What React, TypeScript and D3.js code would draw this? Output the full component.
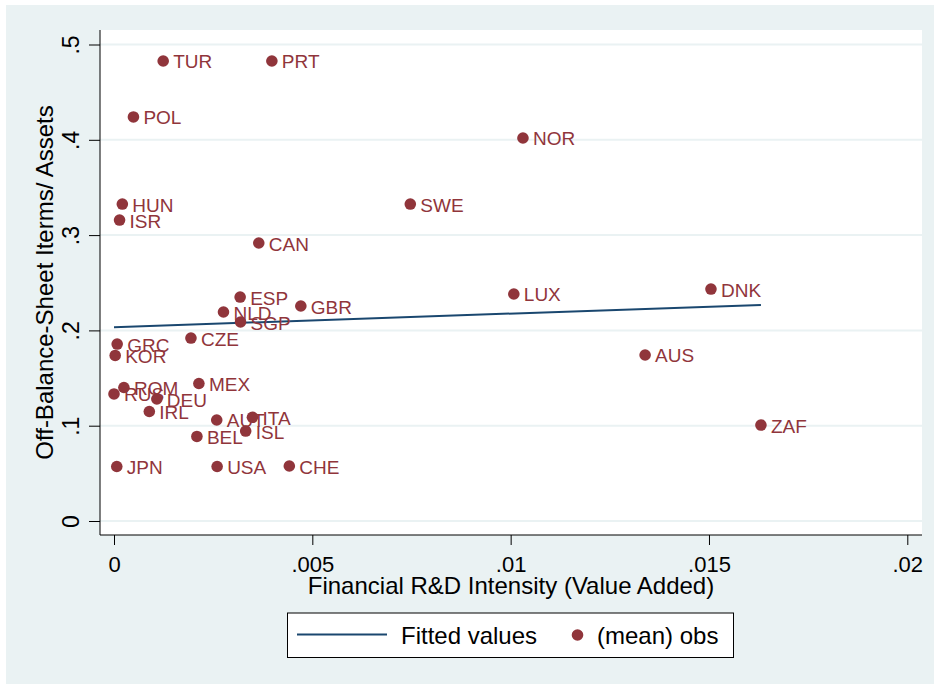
import React, { useEffect, useRef } from 'react';
import * as d3 from 'd3';

// Country codes and values
const countries = ['TUR', 'PRT', 'POL', 'NOR', 'HUN', 'SWE', 'ISR', 'CAN', 'ESP', 'LUX', 'DNK',
  'GBR', 'NLD', 'SGP', 'CZE', 'GRC', 'KOR', 'AUS', 'MEX', 'ROM', 'RUS', 'DEU', 'IRL', 'AUT',
  'ITA', 'ISL', 'ZAF', 'BEL', 'JPN', 'USA', 'CHE'];
const rdIntensity = [0.00124, 0.00398, 0.00049, 0.01031, 0.00021, 0.00747, 0.00014, 0.00365,
  0.00318, 0.01008, 0.01505, 0.00471, 0.00276, 0.00319, 0.00194, 0.00008, 0.00003, 0.01339,
  0.00214, 0.00025, 0.0, 0.00108, 0.00089, 0.00259, 0.00349, 0.00332, 0.01631, 0.00209,
  0.00007, 0.0026, 0.00442];
const offBalance = [0.4827, 0.4827, 0.424, 0.4019, 0.3326, 0.3326, 0.3158, 0.2917, 0.235,
  0.2382, 0.2434, 0.2256, 0.2193, 0.2088, 0.192, 0.1857, 0.1737, 0.1742, 0.1443, 0.1401,
  0.1333, 0.128, 0.1149, 0.106, 0.1088, 0.0944, 0.1007, 0.0887, 0.0572, 0.0572, 0.0577];

// Fitted values line (endpoints)
const fitX = [0, 0.01631];
const fitY = [0.2033, 0.2267];

const xTicks = [0, 0.005, 0.01, 0.015, 0.02];
const xTickLabels = ['0', '.005', '.01', '.015', '.02'];
const yTicks = [0, 0.1, 0.2, 0.3, 0.4, 0.5];
const yTickLabels = ['0', '.1', '.2', '.3', '.4', '.5'];

const W = 934;
const H = 684;
const FONT = '"Liberation Sans", Arial, sans-serif';
const BG = '#eaf2f3';
const NAVY = '#1a476f';
const MAROON = '#90353b';

const App: React.FC = () => {
  const ref = useRef<SVGSVGElement | null>(null);

  useEffect(() => {
    document.body.style.margin = '0';
    if (!ref.current) return;
    const svg = d3.select(ref.current);
    svg.selectAll('*').remove();

    // plot region bounds
    const left = 100, right = 922, top = 30, bottom = 535;

    const x = d3.scaleLinear().domain([0, 0.02]).range([114, 907.3]);
    const y = d3.scaleLinear().domain([0, 0.5]).range([521, 44.5]);

    svg.append('rect').attr('width', W).attr('height', H).attr('fill', '#fff');
    svg.append('rect').attr('x', 6).attr('y', 5).attr('width', W - 6).attr('height', H - 5).attr('fill', BG);
    svg.append('rect').attr('x', left).attr('y', top).attr('width', right - left).attr('height', bottom - top).attr('fill', '#fff');

    // gridlines
    svg.append('g').selectAll('line').data(yTicks).enter().append('line')
      .attr('x1', left).attr('x2', right)
      .attr('y1', d => y(d)).attr('y2', d => y(d))
      .attr('stroke', BG).attr('stroke-width', 2);

    // y axis
    const yAxis = svg.append('g').attr('transform', `translate(${left},0)`)
      .call(d3.axisLeft(y).tickValues(yTicks).tickSize(11).tickSizeOuter(0)
        .tickFormat((d, i) => yTickLabels[i]));
    yAxis.select('.domain').attr('d', `M0,${top}V${bottom}`).attr('stroke', '#000');
    yAxis.selectAll('.tick line').attr('stroke', '#000');
    yAxis.selectAll('.tick text')
      .attr('x', null).attr('dy', null)
      .attr('transform', 'translate(-21,0) rotate(-90)')
      .attr('text-anchor', 'middle')
      .attr('font-family', FONT).attr('font-size', 23).attr('fill', '#000');

    // x axis
    const xAxis = svg.append('g').attr('transform', `translate(0,${bottom})`)
      .call(d3.axisBottom(x).tickValues(xTicks).tickSize(10).tickSizeOuter(0)
        .tickFormat((d, i) => xTickLabels[i]));
    xAxis.select('.domain').attr('d', `M${left},0H${right}`).attr('stroke', '#000');
    xAxis.selectAll('.tick line').attr('stroke', '#000');
    xAxis.selectAll('.tick text')
      .attr('y', 37).attr('dy', null)
      .attr('font-family', FONT).attr('font-size', 22).attr('fill', '#000');

    // axis titles
    svg.append('text')
      .attr('x', (left + right) / 2).attr('y', 594)
      .attr('text-anchor', 'middle')
      .attr('font-family', FONT).attr('font-size', 24)
      .text('Financial R&D Intensity (Value Added)');
    svg.append('text')
      .attr('transform', `translate(53,${(top + bottom) / 2}) rotate(-90)`)
      .attr('text-anchor', 'middle')
      .attr('font-family', FONT).attr('font-size', 24)
      .text('Off-Balance-Sheet Iterms/ Assets');

    // fitted line
    const line = d3.line<number>().x((d, i) => x(fitX[i])).y(d => y(d));
    svg.append('path').datum(fitY).attr('d', line)
      .attr('fill', 'none').attr('stroke', NAVY).attr('stroke-width', 2);

    // points with labels
    const pts = svg.append('g');
    const idx = d3.range(countries.length);
    pts.selectAll('circle').data(idx).enter().append('circle')
      .attr('cx', i => x(rdIntensity[i])).attr('cy', i => y(offBalance[i]))
      .attr('r', 5.8).attr('fill', MAROON);
    pts.selectAll('text').data(idx).enter().append('text')
      .attr('x', i => x(rdIntensity[i]) + 10).attr('y', i => y(offBalance[i]) + 7.5)
      .attr('font-family', FONT).attr('font-size', 19).attr('fill', MAROON)
      .text(i => countries[i]);

    // legend
    const lg = svg.append('g');
    lg.append('rect').attr('x', 287.5).attr('y', 613).attr('width', 446).attr('height', 44.5)
      .attr('fill', '#fff').attr('stroke', '#000').attr('stroke-width', 1);
    lg.append('line').attr('x1', 297).attr('x2', 387).attr('y1', 634.5).attr('y2', 634.5)
      .attr('stroke', NAVY).attr('stroke-width', 2);
    lg.append('text').attr('x', 401).attr('y', 644)
      .attr('font-family', FONT).attr('font-size', 24).text('Fitted values');
    lg.append('circle').attr('cx', 577.5).attr('cy', 635).attr('r', 5.8).attr('fill', MAROON);
    lg.append('text').attr('x', 597).attr('y', 644)
      .attr('font-family', FONT).attr('font-size', 24).text('(mean) obs');
  }, []);

  return <svg ref={ref} width={W} height={H} style={{ display: 'block' }} />;
};

export default App;
